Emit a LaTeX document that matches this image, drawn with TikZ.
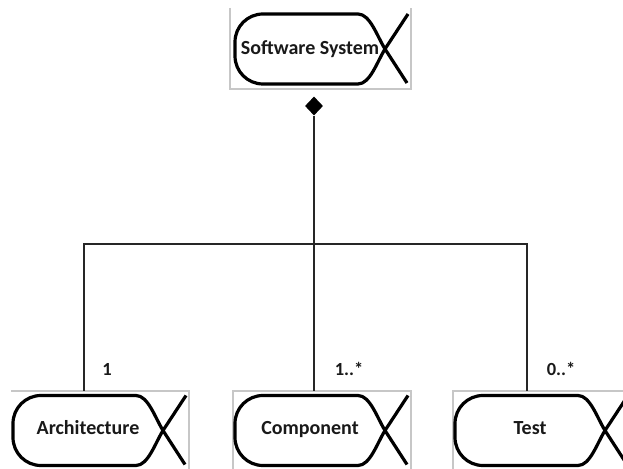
\documentclass[tikz,border=0pt]{standalone}
\usepackage{fontspec}
\setmainfont{Carlito}
\usetikzlibrary{shapes.geometric}

\begin{document}
\begin{tikzpicture}[x=1pt,y=1pt]
\useasboundingbox (0,0) rectangle (623,468);
\begin{scope}[every node/.style={font=\fontsize{20}{23}\selectfont\bfseries,text=black!90,
              minimum width=150pt,minimum height=79pt,inner sep=0pt,outer sep=0pt,
              text height=12pt,text depth=3.5pt}]
    \node[text height=15.5pt] (sys) at (310,419) {Software System};
    \node (arch) at (88,37.5) {Architecture};
    \node (comp) at (310,37.5) {Component};
    \node (test) at (530,37.5) {Test};
\end{scope}
\begin{scope}[frame_line/.style={draw=black!22,line width=1.2pt}]
    \draw[frame_line] ([shift={(-80,41)}]sys.center) -- ([shift={(-80,-40)}]sys.center)
        -- ([shift={(101,-40)}]sys.center) -- ([shift={(101,41)}]sys.center);
    \draw[frame_line] ([shift={(-77,39.5)}]arch.center) -- ([shift={(101,39.5)}]arch.center)
        -- ([shift={(101,-45)}]arch.center);
    \foreach \n in {comp,test}
        \draw[frame_line] ([shift={(-77,-45)}]\n.center) -- ([shift={(-77,39.5)}]\n.center)
            -- ([shift={(101,39.5)}]\n.center) -- ([shift={(101,-45)}]\n.center);
\end{scope}
\begin{scope}[fish_line/.style={draw=black,line width=3.2pt,line join=round}]
    \foreach \n in {sys,arch,comp,test}
        \draw[fish_line,shift={(\n.center)}] (97,-34) -- (75,0)
            .. controls (67,13) and (60,35) .. (48,35) -- (-47,35)
            arc[start angle=90,end angle=180,radius=28] -- (-75,-7)
            arc[start angle=180,end angle=270,radius=28] -- (48,-35)
            .. controls (60,-35) and (67,-13) .. (75,0) -- (98,35);
\end{scope}
\node[diamond,fill=black,minimum width=18pt,minimum height=19pt,inner sep=0pt] (agg) at (314,362) {};
\coordinate (barL) at (84,224);
\coordinate (barR) at (527,224);
\begin{scope}[tree_line/.style={draw=black!85,line width=1.4pt}]
    \draw[tree_line] (agg.south) -- (agg.south |- comp.north);
    \draw[tree_line] (arch.north -| barL) -- (barL) -- (barR) -- (test.north -| barR);
\end{scope}
\begin{scope}[every node/.style={font=\fontsize{18.5}{22}\selectfont\bfseries,text=black!90}]
    \node (m1) at (107,99) {1};
    \node (m2) at (349,99) {1..*};
    \node (m3) at (561,99) {0..*};
\end{scope}
\end{tikzpicture}
\end{document}
